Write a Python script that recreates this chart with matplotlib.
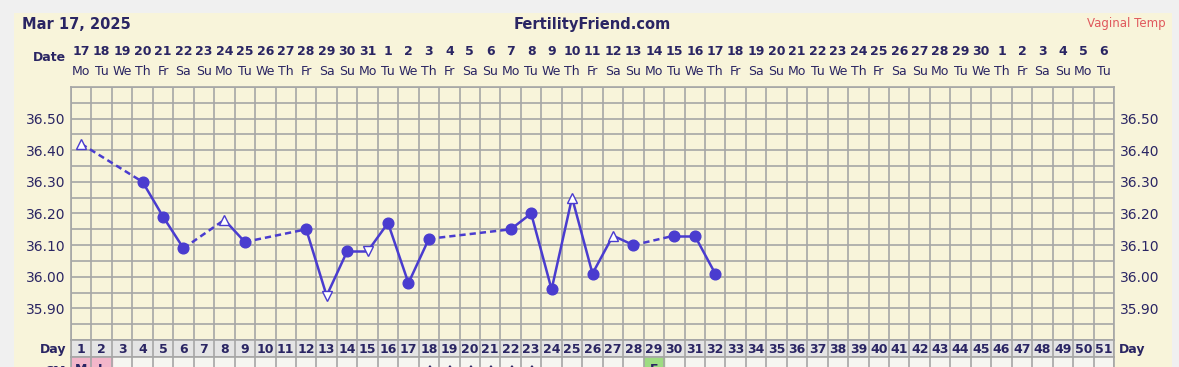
import numpy as np
import pandas as pd
import matplotlib
matplotlib.use("Agg")
import matplotlib.pyplot as plt
from matplotlib.patches import Rectangle
from matplotlib.transforms import blended_transform_factory as blend

# chart data
start_date = "2025-03-17"
n_days = 51
days = [1, 4, 5, 6, 8, 9, 12, 13, 14, 15, 16, 17, 18, 22, 23, 24, 25, 26, 27, 28, 30, 31, 32]
temps = [36.42, 36.30, 36.19, 36.09, 36.18, 36.11, 36.15, 35.94, 36.08, 36.08, 36.17, 35.98,
         36.12, 36.15, 36.20, 35.96, 36.25, 36.01, 36.13, 36.10, 36.13, 36.13, 36.01]
# 'o' normal reading, '^' / 'v' open triangles
kinds = ['^', 'o', 'o', 'o', '^', 'o', 'o', 'v', 'o', 'v', 'o', 'o',
         'o', 'o', 'o', 'o', '^', 'o', '^', 'o', 'o', 'o', 'o']
temp_ticks = [35.90, 36.00, 36.10, 36.20, 36.30, 36.40, 36.50]
flow_days = {1: 'M', 2: 'L'}
dot_days = [18, 19, 20, 21, 22, 23]
egg_days = [29]

W, H = 1179, 367
def fx(px): return px / W
def fy(py): return 1 - py / H

navy = '#2a2563'
blue = '#4a3ccf'
cream = '#f8f4da'
gridc = '#a6a6a6'

plt.rcParams['font.family'] = ['DejaVu Sans']

fig = plt.figure(figsize=(W / 100, H / 100), dpi=100, facecolor='#f0f0f0')
# the cream card behind everything
fig.patches.append(Rectangle((fx(14), 0), fx(1172) - fx(14), fy(13), transform=fig.transFigure,
                             facecolor=cream, edgecolor='none', zorder=-10))

L, R = 71, 1114
ax = fig.add_axes([fx(L), fy(340), fx(R) - fx(L), fy(87) - fy(340)])
ax.set_facecolor(cream)
ax.set_xlim(0, n_days)
ax.set_ylim(35.80, 36.60)
ax.set_xticks(np.arange(0, n_days + 1))
ax.set_yticks(temp_ticks)
ax.set_yticklabels(['%.2f' % t for t in temp_ticks])
ax.set_yticks(np.arange(35.80, 36.601, 0.05), minor=True)
ax.grid(True, which='both', color=gridc, lw=1.2)
ax.set_axisbelow(True)
ax.tick_params(axis='x', length=0, labelbottom=False)
ax.tick_params(axis='y', which='both', length=0, labelleft=True, labelright=True,
               pad=4, labelsize=10, labelcolor=navy)
for s in ax.spines.values():
    s.set_color(gridc)
    s.set_linewidth(1.2)

# temperature line: solid between consecutive days, dashed over gaps
xs = np.array(days) - 0.5
for i in range(len(days) - 1):
    ls = '-' if days[i + 1] - days[i] == 1 else (0, (2.5, 1.6))
    ax.plot(xs[i:i + 2], temps[i:i + 2], color=blue, lw=1.8, ls=ls, zorder=3)
for x, t, k in zip(xs, temps, kinds):
    if k == 'o':
        ax.plot(x, t, 'o', ms=7.7, color=blue, zorder=4)
    else:
        ax.plot(x, t, k, ms=7.5, mfc='white', mec=blue, mew=1, zorder=4)

# header
tr = blend(ax.transData, fig.transFigure)
dates = pd.date_range(start_date, periods=n_days)
wk = ['Mo', 'Tu', 'We', 'Th', 'Fr', 'Sa', 'Su']
for i, d in enumerate(dates):
    ax.text(i + 0.5, fy(55), str(d.day), transform=tr, ha='center', va='baseline',
            fontsize=9, fontweight='bold', color=navy)
    ax.text(i + 0.5, fy(75), wk[d.weekday()], transform=tr, ha='center', va='baseline',
            fontsize=9, color=navy)

fig.text(fx(22), fy(29), 'Mar 17, 2025', fontsize=10.5, fontweight='bold', color=navy, va='baseline')
fig.text(fx(592), fy(29), 'FertilityFriend.com', fontsize=10.5, fontweight='bold', color=navy,
         ha='center', va='baseline')
fig.text(fx(1166), fy(27), 'Vaginal Temp', fontsize=8.5, color='#e0585c', ha='right', va='baseline')
fig.text(fx(66), fy(61), 'Date', fontsize=9, fontweight='bold', color=navy, ha='right', va='baseline')

# day row
axd = fig.add_axes([fx(L), fy(357), fx(R) - fx(L), fy(340) - fy(357)])
axd.set_facecolor('#e4e4e4')
axd.set_xlim(0, n_days)
axd.set_ylim(0, 1)
axd.set_xticks(np.arange(0, n_days + 1))
axd.set_yticks([])
axd.grid(True, axis='x', color=gridc, lw=1.2)
axd.tick_params(length=0, labelbottom=False)
for s in axd.spines.values():
    s.set_color(gridc)
    s.set_linewidth(1.2)
for i in range(n_days):
    axd.text(i + 0.5, 0.45, str(i + 1), ha='center', va='center', fontsize=9,
             fontweight='bold', color=navy)
fig.text(fx(66), fy(349), 'Day', fontsize=9, fontweight='bold', color=navy, ha='right', va='center')
fig.text(fx(1119), fy(349), 'Day', fontsize=9, fontweight='bold', color=navy, ha='left', va='center')

# next row (cut off by the picture edge, as in the reference)
axs = fig.add_axes([fx(L), fy(376), fx(R) - fx(L), fy(357) - fy(376)])
axs.set_facecolor('#f6f6f1')
axs.set_xlim(0, n_days)
axs.set_ylim(0, 1)
axs.set_xticks(np.arange(0, n_days + 1))
axs.set_yticks([])
axs.grid(True, axis='x', color=gridc, lw=1.2)
axs.tick_params(length=0, labelbottom=False)
for s in axs.spines.values():
    s.set_color(gridc)
    s.set_linewidth(1.2)
for d, lab in flow_days.items():
    axs.axvspan(d - 1, d, color='#f3b6ca', zorder=0.5)
    axs.text(d - 0.5, 0.32, lab, ha='center', va='center', fontsize=9, fontweight='bold', color=navy)
for d in egg_days:
    axs.axvspan(d - 1, d, color='#9edc82', zorder=0.5)
    axs.text(d - 0.5, 0.32, 'E', ha='center', va='center', fontsize=9, fontweight='bold', color=navy)
for d in dot_days:
    axs.text(d - 0.5, 0.3, '\u2666', ha='center', va='center', fontsize=8, color=navy)
fig.text(fx(66), fy(375), 'CM', fontsize=9, fontweight='bold', color=navy, ha='right', va='baseline')

fig.savefig('out.png', dpi=100, facecolor=fig.get_facecolor())
